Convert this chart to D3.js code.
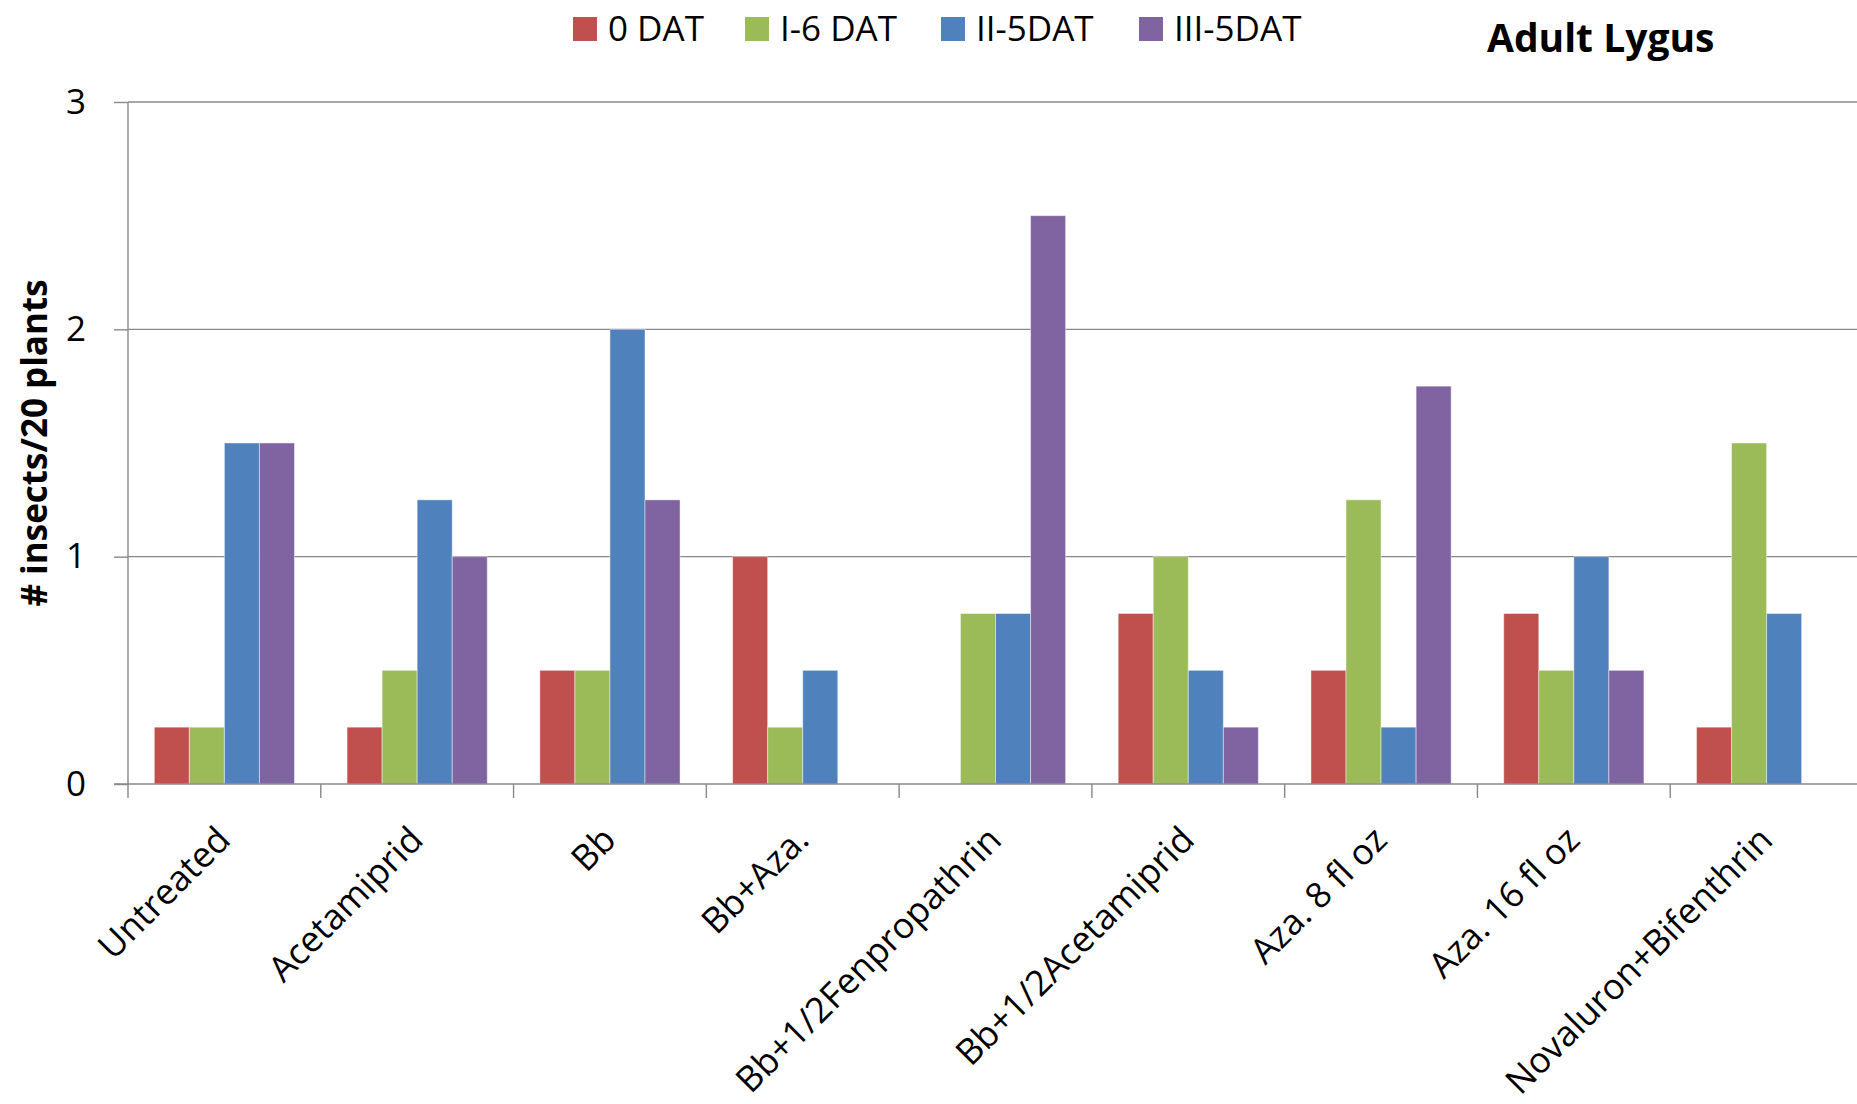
<!DOCTYPE html>
<html>
<head>
<meta charset="utf-8">
<script src="https://cdn.jsdelivr.net/npm/d3@7"></script>
<style>
  html, body { margin: 0; padding: 0; background: #fff; }
  svg { display: block; overflow: hidden; }
  text { font-family: "Open Sans", "Noto Sans", sans-serif; fill: #000; }
</style>
</head>
<body>
<svg id="chart" width="1857" height="1104"></svg>
<script>
// Adult Lygus counts per 20 plants, by treatment and sampling date
const treatments = [
  "Untreated", "Acetamiprid", "Bb", "Bb+Aza.", "Bb+1/2Fenpropathrin",
  "Bb+1/2Acetamiprid", "Aza. 8 fl oz", "Aza. 16 fl oz", "Novaluron+Bifenthrin"
];
const seriesNames = ["0 DAT", "I-6 DAT", "II-5DAT", "III-5DAT"];
const seriesColors = ["#C0504D", "#9BBB59", "#4F81BD", "#8064A2"];

const dat0   = [0.25, 0.25, 0.5, 1.0, 0,    0.75, 0.5,  0.75, 0.25];
const dat6   = [0.25, 0.5,  0.5, 0.25, 0.75, 1.0, 1.25, 0.5,  1.5];
const dat5II = [1.5,  1.25, 2.0, 0.5, 0.75, 0.5,  0.25, 1.0,  0.75];
const dat5III= [1.5,  1.0,  1.25, 0,  2.5,  0.25, 1.75, 0.5,  0];
const seriesValues = [dat0, dat6, dat5II, dat5III];

const yTicks = [0, 1, 2, 3];
const yTitle = "# insects/20 plants";
const chartTitle = "Adult Lygus";

const svg = d3.select("#chart");

const plot = { left: 128, top: 102, bottom: 784, right: 1863 };

const x0 = d3.scaleBand().domain(treatments).range([plot.left, plot.right]).padding(0);
const x1 = d3.scaleBand().domain(d3.range(seriesNames.length))
  .range([0, x0.bandwidth()]).paddingInner(0).paddingOuter(0.75);
const y = d3.scaleLinear().domain([0, 3]).range([plot.bottom, plot.top]);

const gridColor = "#888888";

// horizontal gridlines
svg.append("g")
  .selectAll("line")
  .data(yTicks.filter(d => d > 0))
  .join("line")
  .attr("x1", plot.left).attr("x2", 1857)
  .attr("y1", d => y(d)).attr("y2", d => y(d))
  .attr("stroke", gridColor).attr("stroke-width", 1.4);

// bars
const groups = svg.append("g")
  .selectAll("g")
  .data(treatments)
  .join("g")
  .attr("transform", d => `translate(${x0(d)},0)`);

groups.selectAll("rect")
  .data((d, i) => seriesValues.map((vals, s) => ({ s, v: vals[i] })).filter(e => e.v > 0))
  .join("rect")
  .attr("x", d => x1(d.s))
  .attr("width", x1.bandwidth())
  .attr("y", d => y(d.v))
  .attr("height", d => y(0) - y(d.v))
  .attr("fill", d => seriesColors[d.s])
  .attr("stroke", "rgba(255,255,255,0.45)")
  .attr("stroke-width", 1);

// y axis
const yAxis = d3.axisLeft(y).tickValues(yTicks).tickSize(14).tickPadding(28).tickFormat(d3.format("d"));
const gy = svg.append("g").attr("transform", `translate(${plot.left},0)`).call(yAxis);
gy.select(".domain").remove();
gy.selectAll(".tick line").attr("stroke", gridColor).attr("stroke-width", 1.4);
gy.selectAll(".tick text").attr("font-size", 35).attr("font-family", "Open Sans").attr("fill", "#000");
svg.append("line")
  .attr("x1", plot.left).attr("x2", plot.left)
  .attr("y1", plot.top).attr("y2", plot.bottom + 14)
  .attr("stroke", gridColor).attr("stroke-width", 1.4);

// x axis
svg.append("line")
  .attr("x1", plot.left - 14).attr("x2", 1857)
  .attr("y1", plot.bottom).attr("y2", plot.bottom)
  .attr("stroke", gridColor).attr("stroke-width", 1.6);
svg.append("g")
  .selectAll("line")
  .data(treatments)
  .join("line")
  .attr("x1", d => x0(d) + x0.step())
  .attr("x2", d => x0(d) + x0.step())
  .attr("y1", plot.bottom).attr("y2", plot.bottom + 14)
  .attr("stroke", gridColor).attr("stroke-width", 1.4);

svg.append("g")
  .selectAll("text")
  .data(treatments)
  .join("text")
  .attr("transform", d => `translate(${x0(d) + x0.bandwidth() / 2 + 8},${plot.bottom + 58}) rotate(-45)`)
  .attr("text-anchor", "end")
  .attr("font-size", 35.5)
  .text(d => d);

// y axis title
svg.append("text")
  .attr("transform", `translate(47,${(278 + 608) / 2}) rotate(-90)`)
  .attr("text-anchor", "middle")
  .attr("font-size", 35)
  .attr("font-weight", "bold")
  .text(yTitle);

// chart title
svg.append("text")
  .attr("x", 1487).attr("y", 52)
  .attr("font-size", 39)
  .attr("font-weight", "bold")
  .text(chartTitle);

// legend
const legendX = [573, 745, 941, 1139];
const legend = svg.append("g");
seriesNames.forEach((name, i) => {
  legend.append("rect")
    .attr("x", legendX[i]).attr("y", 17).attr("width", 24).attr("height", 24)
    .attr("fill", seriesColors[i]);
  legend.append("text")
    .attr("x", legendX[i] + 35).attr("y", 41)
    .attr("font-size", 35)
    .text(name);
});
</script>
</body>
</html>
